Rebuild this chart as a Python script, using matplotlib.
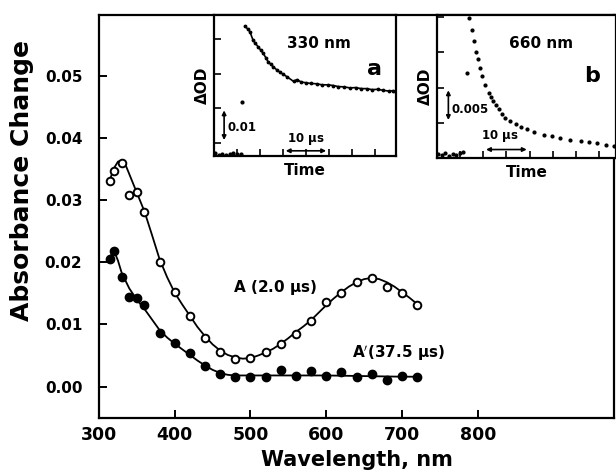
import matplotlib
matplotlib.use("Agg")
import matplotlib.pyplot as plt

# ---------------- data ----------------
# Main spectrum: A (2.0 us) open circles, A' (37.5 us) filled circles
wl_A = [315, 320, 330, 340, 350, 360, 380, 400, 420, 440, 460, 480, 500, 520,
        540, 560, 580, 600, 620, 640, 660, 680, 700, 720]
abs_A = [0.0331, 0.0347, 0.0360, 0.0308, 0.0314, 0.0281, 0.0201, 0.0152, 0.0113,
         0.0078, 0.0056, 0.0045, 0.0046, 0.0056, 0.0068, 0.0085, 0.0106, 0.0136,
         0.0151, 0.0169, 0.0175, 0.0161, 0.0150, 0.0132]

wl_Ap = [315, 320, 330, 340, 350, 360, 380, 400, 420, 440, 460, 480, 500, 520,
         540, 560, 580, 600, 620, 640, 660, 680, 700, 720]
abs_Ap = [0.0205, 0.0218, 0.0176, 0.0145, 0.0143, 0.0132, 0.0087, 0.0070, 0.0054,
          0.0033, 0.0020, 0.0016, 0.0016, 0.0016, 0.0026, 0.0017, 0.0025, 0.0017,
          0.0023, 0.0015, 0.0021, 0.0011, 0.0017, 0.0016]

# fitted curves
fit_wl_A = [315, 320, 325, 330, 335, 340, 350, 360, 370, 380, 390, 400, 410, 420,
            430, 440, 450, 460, 470, 480, 490, 500, 510, 520, 530, 540, 550, 560,
            570, 580, 590, 600, 610, 620, 630, 640, 650, 660, 670, 680, 690, 700,
            710, 720]
fit_A = [0.0335, 0.0352, 0.0362, 0.0364, 0.0357, 0.0342, 0.0312, 0.0282, 0.0244,
         0.0205, 0.0176, 0.0151, 0.0132, 0.0114, 0.0096, 0.0081, 0.0068, 0.0058,
         0.0051, 0.0047, 0.0045, 0.0046, 0.0050, 0.0055, 0.0061, 0.0069, 0.0078,
         0.0088, 0.0097, 0.0107, 0.0119, 0.0131, 0.0142, 0.0152, 0.0161, 0.0168,
         0.0173, 0.0175, 0.0173, 0.0168, 0.0161, 0.0152, 0.0143, 0.0133]

fit_wl_Ap = [315, 320, 325, 330, 340, 350, 360, 370, 380, 390, 400, 410, 420, 430,
             440, 450, 460, 470, 480, 500, 550, 600, 650, 700, 720]
fit_Ap = [0.0210, 0.0218, 0.0203, 0.0183, 0.0158, 0.0140, 0.0125, 0.0108, 0.0091,
          0.0079, 0.0069, 0.0060, 0.0051, 0.0042, 0.0034, 0.0027, 0.0022, 0.0019,
          0.0018, 0.0018, 0.0018, 0.0018, 0.0017, 0.0016, 0.0016]

# Inset a: 330 nm trace (time in us, dOD)
ta_base = [0.3, 1.0, 1.8, 2.6, 3.4, 4.2, 5.0, 5.8]
oda_base = [-0.0030, -0.0034, -0.0031, -0.0035, -0.0032, -0.0030, -0.0033, -0.0031]
ta_spike = [6.0]
oda_spike = [0.0117]
ta = [6.7, 7.3, 7.8, 8.5, 9.0, 9.6, 10.2, 10.7, 11.3, 11.8, 12.4, 12.9, 13.6, 14.3,
      15.0, 15.8, 17.3, 18.0, 19.0, 20.0, 21.0, 22.3, 23.5, 24.7, 25.9, 27.0, 28.3,
      29.6, 30.8, 32.0, 33.2, 34.4, 35.6, 36.8, 38.0, 39.0, 39.6]
oda = [0.0338, 0.0330, 0.0322, 0.0297, 0.0288, 0.0278, 0.0268, 0.0259, 0.0246,
       0.0234, 0.0227, 0.0220, 0.0212, 0.0205, 0.0199, 0.0192, 0.0178, 0.0183,
       0.0176, 0.0174, 0.0172, 0.0171, 0.0168, 0.0168, 0.0166, 0.0163, 0.0162,
       0.0159, 0.0160, 0.0157, 0.0157, 0.0154, 0.0155, 0.0152, 0.0150, 0.0151,
       0.0146]

# Inset b: 660 nm trace
tb_base = [0.3, 1.0, 1.8, 2.6, 3.4, 4.2, 5.0, 5.6]
odb_base = [0.0006, 0.0004, 0.0007, 0.0003, 0.0006, 0.0004, 0.0007, 0.0009]
tb_spike = [6.5]
odb_spike = [0.0120]
tb = [7.0, 7.5, 8.0, 8.5, 8.8, 9.2, 9.7, 10.4, 11.2, 11.7, 12.2, 12.8, 13.3, 14.0,
      14.8, 15.8, 17.0, 18.2, 19.5, 21.0, 23.1, 24.8, 26.7, 28.8, 31.1, 32.9, 34.7,
      36.5, 38.3]
odb = [0.0199, 0.0182, 0.0166, 0.0151, 0.0140, 0.0128, 0.0116, 0.0104, 0.0092,
       0.0086, 0.0081, 0.0075, 0.0069, 0.0063, 0.0057, 0.0052, 0.0048, 0.0044,
       0.0041, 0.0037, 0.0033, 0.0031, 0.0029, 0.0026, 0.0024, 0.0023, 0.0021,
       0.0019, 0.0017]

x_ticks = [300, 400, 500, 600, 700, 800]
y_ticks = [0.00, 0.01, 0.02, 0.03, 0.04, 0.05]

# ---------------- figure ----------------
plt.rcParams['font.family'] = ['DejaVu Sans']
plt.rcParams['font.weight'] = 'bold'

fig = plt.figure(figsize=(6.16, 4.75), dpi=100)
ax = fig.add_axes([0.1607, 0.1206, 0.8361, 0.8478])

ax.plot(fit_wl_A, fit_A, color='black', lw=1.3, zorder=2)
ax.plot(fit_wl_Ap, fit_Ap, color='black', lw=1.3, zorder=2)
ax.plot(wl_A, abs_A, 'o', ms=5.5, mfc='white', mec='black', mew=1.4, zorder=3)
ax.plot(wl_Ap, abs_Ap, 'o', ms=6, mfc='black', mec='black', zorder=3)

ax.set_xlim(300, 980)
ax.set_ylim(-0.005, 0.0598)
ax.set_xticks(x_ticks)
ax.set_yticks(y_ticks)
ax.set_xticklabels([str(v) for v in x_ticks], fontsize=12.5, fontweight='bold')
ax.set_yticklabels([f"{v:.2f}" for v in y_ticks], fontsize=11, fontweight='bold')
ax.tick_params(direction='in', length=6, width=1.4)
ax.tick_params(axis='x', pad=6)
ax.tick_params(axis='y', pad=12)
for s in ax.spines.values():
    s.set_linewidth(1.6)

ax.set_xlabel('Wavelength, nm', fontsize=15, fontweight='bold', labelpad=4)
ax.set_ylabel('Absorbance Change', fontsize=18, fontweight='bold')
ax.yaxis.set_label_coords(-0.126, 0.59)

ax.text(532, 0.0159, 'A (2.0 $\\mathbf{\\mu}$s)', fontsize=11, fontweight='bold',
        ha='center', va='center')
ax.text(695, 0.0054, 'A$^{\\prime}$(37.5 $\\mathbf{\\mu}$s)', fontsize=11, fontweight='bold',
        ha='center', va='center')

# ---------------- inset a ----------------
axa = fig.add_axes([0.3474, 0.6716, 0.2955, 0.2968])
axa.plot(ta_base, oda_base, '.', color='black', ms=4)
axa.plot(ta_spike, oda_spike, '.', color='black', ms=4)
axa.plot(ta, oda, '.-', color='black', ms=3.5, lw=1.2)
axa.set_xlim(0, 39.6)
axa.set_ylim(-0.0038, 0.037)
axa.set_xticks([5, 10, 15, 20, 25, 30, 35])
axa.set_yticks([0.0, 0.01, 0.02, 0.03])
axa.tick_params(direction='in', length=5, width=1.2, labelbottom=False, labelleft=False)
for s in axa.spines.values():
    s.set_linewidth(1.6)
axa.set_xlabel('Time', fontsize=11, fontweight='bold', labelpad=5)
axa.set_ylabel('ΔOD', fontsize=11, fontweight='bold', labelpad=3)
axa.annotate('', xy=(2.2, 0.0), xytext=(2.2, 0.0102),
             arrowprops=dict(arrowstyle='<|-|>', color='black', lw=1.2, mutation_scale=6))
axa.text(2.9, 0.0044, '0.01', fontsize=8.5, fontweight='bold', ha='left', va='center')
axa.annotate('', xy=(15, -0.0023), xytext=(25, -0.0023),
             arrowprops=dict(arrowstyle='<|-|>', color='black', lw=1.2, mutation_scale=6))
axa.text(20, 0.0012, '10 $\\mathbf{\\mu}$s', fontsize=8.5, fontweight='bold',
         ha='center', va='center')
axa.text(22.8, 0.0287, '330 nm', fontsize=11, fontweight='bold', ha='center', va='center')
axa.text(35.0, 0.0213, 'a', fontsize=16, fontweight='bold', ha='center', va='center')

# ---------------- inset b ----------------
axb = fig.add_axes([0.7094, 0.6674, 0.2906, 0.3010])
axb.plot(tb_base, odb_base, '.', color='black', ms=4)
axb.plot(tb_spike, odb_spike, '.', color='black', ms=4)
axb.plot(tb, odb, '.', color='black', ms=4)
axb.set_xlim(0, 38.7)
axb.set_ylim(0, 0.0203)
axb.set_xticks([5, 10, 15, 20, 25, 30, 35])
axb.set_yticks([0.005, 0.010, 0.015, 0.020])
axb.tick_params(direction='in', length=5, width=1.2, labelbottom=False, labelleft=False)
for s in axb.spines.values():
    s.set_linewidth(1.6)
axb.set_xlabel('Time', fontsize=11, fontweight='bold', labelpad=5)
axb.set_ylabel('ΔOD', fontsize=11, fontweight='bold', labelpad=3)
axb.annotate('', xy=(2.46, 0.0050), xytext=(2.46, 0.0100),
             arrowprops=dict(arrowstyle='<|-|>', color='black', lw=1.2, mutation_scale=6))
axb.text(3.2, 0.0069, '0.005', fontsize=8.5, fontweight='bold', ha='left', va='center')
axb.annotate('', xy=(10, 0.0012), xytext=(20, 0.0012),
             arrowprops=dict(arrowstyle='<|-|>', color='black', lw=1.2, mutation_scale=6))
axb.text(13.5, 0.0031, '10 $\\mathbf{\\mu}$s', fontsize=8.5, fontweight='bold',
         ha='center', va='center')
axb.text(22.5, 0.0163, '660 nm', fontsize=11, fontweight='bold', ha='center', va='center')
axb.text(33.5, 0.0117, 'b', fontsize=16, fontweight='bold', ha='center', va='center')

fig.savefig('out.png', dpi=100)
